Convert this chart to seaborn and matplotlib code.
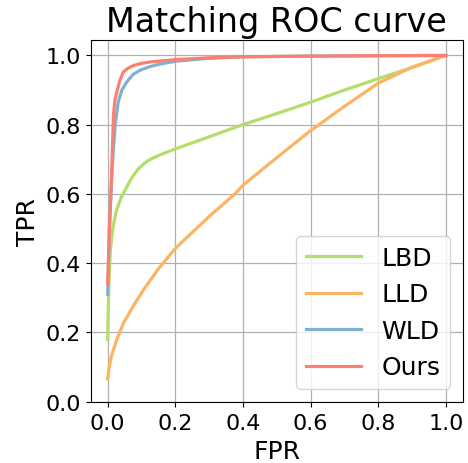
import numpy as np
import pandas as pd
import matplotlib
matplotlib.use("Agg")
import matplotlib.pyplot as plt
import seaborn as sns

methods = ["LBD", "LLD", "WLD", "Ours"]
colors = ["#b3de69", "#fdb462", "#80b1d3", "#fb8072"]

lbd_fpr = [0.0, 0.003, 0.008, 0.015, 0.025, 0.04, 0.053, 0.07, 0.09, 0.113, 0.13, 0.16, 0.2, 0.3, 0.393, 0.49, 0.6, 0.697, 0.8, 0.903, 1.0]
lbd_tpr = [0.18, 0.33, 0.44, 0.50, 0.55, 0.59, 0.614, 0.645, 0.672, 0.692, 0.702, 0.715, 0.73, 0.765, 0.798, 0.829, 0.865, 0.899, 0.933, 0.966, 1.0]

lld_fpr = [0.0, 0.004, 0.012, 0.027, 0.046, 0.076, 0.105, 0.15, 0.2, 0.3, 0.376, 0.4, 0.49, 0.6, 0.697, 0.8, 0.9, 1.0]
lld_tpr = [0.066, 0.10, 0.135, 0.18, 0.226, 0.277, 0.322, 0.384, 0.443, 0.535, 0.60, 0.625, 0.697, 0.783, 0.851, 0.92, 0.966, 1.0]

wld_fpr = [0.0, 0.005, 0.012, 0.017, 0.022, 0.031, 0.042, 0.056, 0.075, 0.095, 0.125, 0.155, 0.2, 0.3, 0.4, 0.6, 0.8, 1.0]
wld_tpr = [0.31, 0.50, 0.65, 0.73, 0.798, 0.865, 0.90, 0.923, 0.945, 0.957, 0.968, 0.975, 0.983, 0.992, 0.996, 0.998, 0.999, 1.0]

ours_fpr = [0.0, 0.005, 0.01, 0.012, 0.017, 0.021, 0.027, 0.035, 0.046, 0.06, 0.076, 0.1, 0.125, 0.2, 0.3, 0.4, 0.6, 0.8, 1.0]
ours_tpr = [0.34, 0.50, 0.62, 0.673, 0.827, 0.87, 0.894, 0.925, 0.952, 0.963, 0.971, 0.977, 0.981, 0.988, 0.993, 0.996, 0.998, 0.999, 1.0]

frames = []
for name, f, t in [("LBD", lbd_fpr, lbd_tpr), ("LLD", lld_fpr, lld_tpr),
                   ("WLD", wld_fpr, wld_tpr), ("Ours", ours_fpr, ours_tpr)]:
    frames.append(pd.DataFrame({"FPR": f, "TPR": t, "method": name}))
df = pd.concat(frames, ignore_index=True)

fig = plt.figure(figsize=(4.68, 4.64), dpi=100)
ax = fig.add_axes([0.194, 0.132, 0.795, 0.780])
sns.lineplot(data=df, x="FPR", y="TPR", hue="method", hue_order=methods,
             palette=colors, linewidth=2.3, sort=False, estimator=None, ax=ax)
ax.grid(True, color="#b0b0b0", linewidth=0.9)
ax.set_axisbelow(True)
ax.set_xlim(-0.05, 1.05)
ax.set_ylim(0.0, 1.045)
ax.set_xticks([0.0, 0.2, 0.4, 0.6, 0.8, 1.0])
ax.set_yticks([0.0, 0.2, 0.4, 0.6, 0.8, 1.0])
ax.tick_params(labelsize=16)
ax.tick_params(axis="x", pad=4.6)
ax.set_xlabel("FPR", fontsize=18, labelpad=4)
ax.set_ylabel("TPR", fontsize=18)
ax.set_title("Matching ROC curve", fontsize=24)
leg = ax.legend(loc="lower right", fontsize=18, handlelength=2.2)
for line in leg.get_lines():
    line.set_linewidth(2.3)
fig.savefig("out.png", dpi=100)
